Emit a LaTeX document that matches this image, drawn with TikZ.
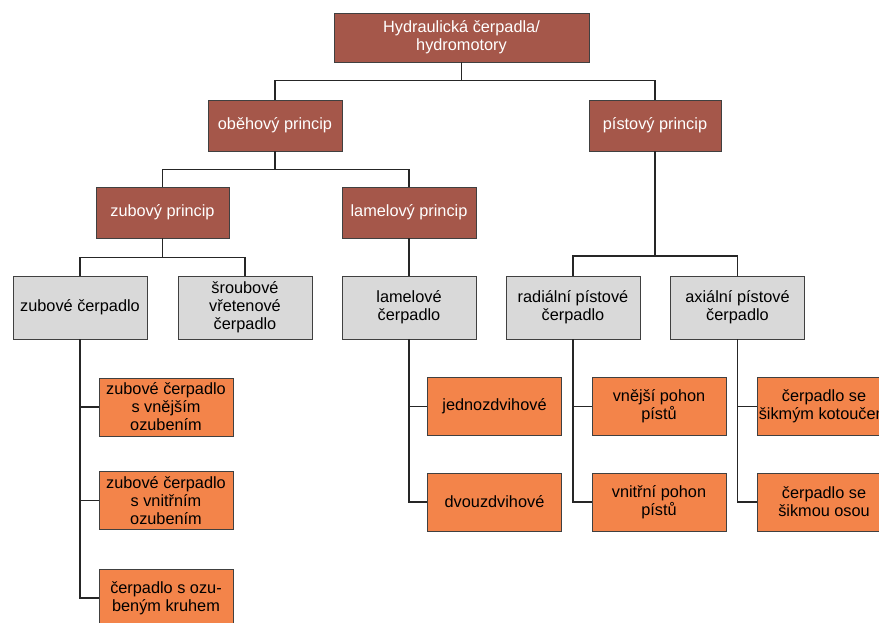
\documentclass[tikz,border=0pt]{standalone}
\usepackage{fontspec}
\setmainfont{Liberation Sans}
\definecolor{brownbox}{HTML}{A5574A}
\definecolor{orangebox}{HTML}{F3844A}
\definecolor{graybox}{HTML}{D9D9D9}
\definecolor{edgecol}{HTML}{404040}
\begin{document}
\begin{tikzpicture}[x=1pt,y=-1pt,
  base/.style={draw=edgecol,line width=0.9pt,align=center,inner sep=0pt,
    font=\fontsize{16.3}{18}\selectfont},
  bbox/.style={base,fill=brownbox,text=white,minimum width=#1,minimum height=51},
  gbox/.style={base,fill=graybox,text=black,minimum width=134,minimum height=63},
  obox/.style={base,fill=orangebox,text=black,minimum width=134,minimum height=58},
  conn/.style={draw=black!85,line width=1.2pt}]
\clip (0,0) rectangle (879,622);
\fill[white] (0,0) rectangle (879,622);
% level 1
\node[bbox=255,minimum height=49] (top) at (461.5,37.5) {Hydraulická čerpadla/\\hydromotory};
% level 2
\node[bbox=134] (obe) at (275,125.5) {oběhový princip};
\node[bbox=132] (pist) at (655,125.5) {pístový princip};
% level 3
\node[bbox=133] (zubP) at (162.5,212.5) {zubový princip};
\node[bbox=134] (lamP) at (409,212.5) {lamelový princip};
% level 4
\node[gbox] (zubC) at (80,307.5) {zubové čerpadlo};
\node[gbox] (srou) at (245,307.5) {šroubové\\vřetenové\\čerpadlo};
\node[gbox] (lamC) at (409,307.5) {lamelové\\čerpadlo};
\node[gbox] (rad) at (573,307.5) {radiální pístové\\čerpadlo};
\node[gbox] (axi) at (737.5,307.5) {axiální pístové\\čerpadlo};
% level 5
\node[obox] (z1) at (166,407) {zubové čerpadlo\\s vnějším\\ozubením};
\node[obox] (z2) at (166,500.5) {zubové čerpadlo\\s vnitřním\\ozubením};
\node[obox] (z3) at (166,598) {čerpadlo s ozu-\\beným kruhem};
\node[obox] (l1) at (494.5,406.5) {jednozdvihové};
\node[obox] (l2) at (494.5,502) {dvouzdvihové};
\node[obox] (r1) at (659,406.5) {vnější pohon\\pístů};
\node[obox] (r2) at (659,502) {vnitřní pohon\\pístů};
\node[obox] (a1) at (824,406.5) {čerpadlo se\\šikmým kotoučem};
\node[obox] (a2) at (824,502) {čerpadlo se\\šikmou osou};
% connectors
\draw[conn] (top.south) -- ++(0,18) coordinate (b1);
\draw[conn] (b1) -| (obe.north);
\draw[conn] (b1) -| (pist.north);
\draw[conn] (obe.south) -- ++(0,18) coordinate (b2);
\draw[conn] (b2) -| (zubP.north);
\draw[conn] (b2) -| (lamP.north);
\draw[conn] (zubP.south) -- ++(0,19) coordinate (b3);
\draw[conn] (b3) -| (zubC.north);
\draw[conn] (b3) -| (srou.north);
\draw[conn] (lamP.south) -- (lamC.north);
\draw[conn] (pist.south) -- (655,256) coordinate (b4);
\draw[conn] (b4) -| (rad.north);
\draw[conn] (b4) -| (axi.north);
\draw[conn] (zubC.south) |- (z1.west);
\draw[conn] (zubC.south) |- (z2.west);
\draw[conn] (zubC.south) |- (z3.west);
\draw[conn] (lamC.south) |- (l1.west);
\draw[conn] (lamC.south) |- (l2.west);
\draw[conn] (rad.south) |- (r1.west);
\draw[conn] (rad.south) |- (r2.west);
\draw[conn] (axi.south) |- (a1.west);
\draw[conn] (axi.south) |- (a2.west);
\end{tikzpicture}
\end{document}
